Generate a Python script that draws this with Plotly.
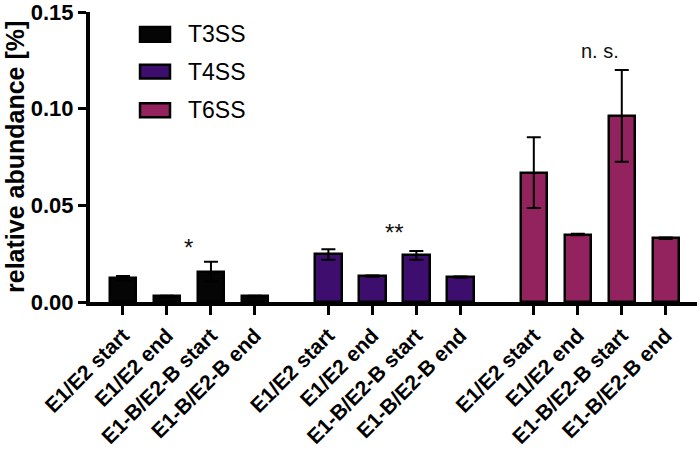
import plotly.graph_objects as go

categories = ["E1/E2 start", "E1/E2 end", "E1-B/E2-B start", "E1-B/E2-B end"]
systems = ["T3SS", "T4SS", "T6SS"]
t3ss_mean = [0.0122, 0.0029, 0.0157, 0.0030]
t3ss_err = [0.0012, 0.0003, 0.0051, 0.0002]
t4ss_mean = [0.0246, 0.0134, 0.0241, 0.0129]
t4ss_err = [0.0027, 0.0003, 0.0023, 0.0003]
t6ss_mean = [0.0670, 0.0349, 0.0963, 0.0330]
t6ss_err = [0.0183, 0.0004, 0.0237, 0.0004]
significance = ["*", "**", "n. s."]
sig_y = [0.028, 0.036, 0.130]
sig_size = [24, 24, 20]
y_ticks = [0.0, 0.05, 0.10, 0.15]
y_title = "relative abundance [%]"

colors = ["#050505", "#3e0e6e", "#93235f"]
means = [t3ss_mean, t4ss_mean, t6ss_mean]
errs = [t3ss_err, t4ss_err, t6ss_err]

group_step = len(categories) + 0.67
FONT = "Arial, Liberation Sans, Helvetica, sans-serif"

fig = go.Figure()
tickvals, ticktext = [], []
for g, (name, m, e, c) in enumerate(zip(systems, means, errs, colors)):
    xs = [g * group_step + i for i in range(len(categories))]
    tickvals += xs
    ticktext += categories
    fig.add_trace(go.Bar(
        x=xs, y=m, name=name, width=0.6,
        marker=dict(color=c, line=dict(color="black", width=2.5)),
        error_y=dict(type="data", array=e, color="black", thickness=2, width=7),
        showlegend=False, hoverinfo="skip",
    ))
    fig.add_annotation(x=g * group_step + 1.5, y=sig_y[g], text=significance[g],
                       showarrow=False, font=dict(family=FONT, size=sig_size[g], color="#111"),
                       xanchor="center", yanchor="middle")

# legend drawn manually to match the wide boxes
leg_y = [(0.9486, 0.897), (0.818, 0.771), (0.685, 0.637)]
for (y1, y0), name, c in zip(leg_y, systems, colors):
    fig.add_shape(type="rect", xref="paper", yref="paper", x0=0.0824, x1=0.1318,
                  y0=y0, y1=y1, fillcolor=c, line=dict(color="black", width=2.5))
    fig.add_annotation(xref="paper", yref="paper", x=0.158, y=(y0 + y1) / 2, text=name,
                       showarrow=False, xanchor="left", yanchor="middle",
                       font=dict(family=FONT, size=23, color="black"))

# y-axis title
fig.add_annotation(xref="paper", yref="paper", x=-0.1236, y=0.5, text=y_title,
                   textangle=-90, showarrow=False, xanchor="center", yanchor="middle",
                   font=dict(family=FONT, size=25, color="black", weight="bold"))

fig.update_layout(
    width=700, height=455,
    margin=dict(l=90, r=3, t=12, b=153, autoexpand=False),
    plot_bgcolor="white", paper_bgcolor="white",
    bargap=0, showlegend=False,
    font=dict(family=FONT, color="black"),
)
fig.update_xaxes(
    range=[-0.75, 13.05], tickvals=tickvals, ticktext=ticktext, tickangle=-45,
    showline=True, linecolor="black", linewidth=4, showgrid=False, zeroline=False,
    ticks="outside", ticklen=9, tickwidth=3, tickcolor="black", automargin=False,
    ticklabeloverflow="allow",
    tickfont=dict(family=FONT, size=21, color="black", weight="bold"),
)
fig.update_yaxes(
    range=[0, 0.15005], tickvals=y_ticks, tickformat=".2f",
    showline=True, linecolor="black", linewidth=4, showgrid=False, zeroline=False,
    ticks="outside", ticklen=8, tickwidth=3, tickcolor="black", automargin=False,
    ticklabeloverflow="allow",
    tickfont=dict(family=FONT, size=22, color="black", weight="bold"),
)
fig.write_html("out.html", config={"displayModeBar": False},
               post_script="document.body.style.margin='0';")
